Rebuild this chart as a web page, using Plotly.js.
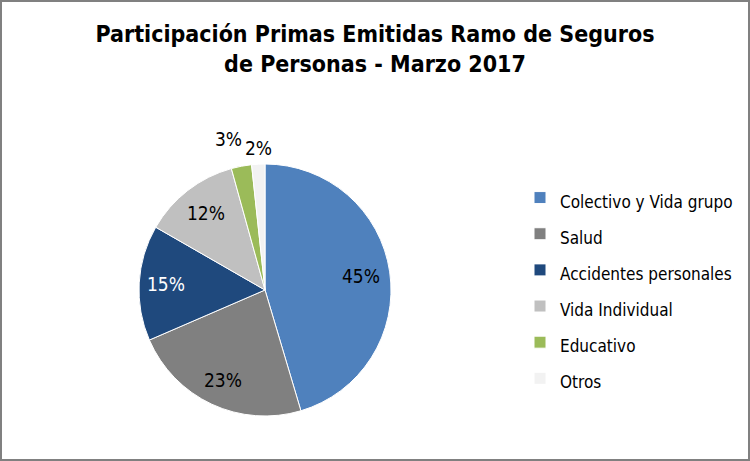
<!DOCTYPE html>
<html>
<head>
<meta charset="utf-8">
<script src="https://cdn.plot.ly/plotly-3.0.1.min.js"></script>
<style>
html,body{margin:0;padding:0;background:#fff}
#wrap{width:750px;height:461px;box-sizing:border-box;border:2px solid #808080;overflow:hidden}
#chart{width:746px;height:457px}
</style>
</head>
<body>
<div id="wrap"><div id="chart"></div></div>
<script>
const labels = ["Colectivo y Vida grupo", "Salud", "Accidentes personales", "Vida Individual", "Educativo", "Otros"];
const values = [45.4, 23.1, 14.8, 12.4, 2.6, 1.7];
const colors = ["#4F81BD", "#808080", "#1F497D", "#C0C0C0", "#9BBB59", "#F2F2F2"];
const labelColors = ["#000", "#000", "#fff", "#000", "#000", "#000"];
const titleText = "Participación Primas Emitidas Ramo de Seguros<br>de Personas - Marzo 2017";

// detect a narrow font
function hasFont(name) {
  const c = document.createElement("canvas").getContext("2d");
  const s = "Colectivo y Vida grupo Wmmll";
  c.font = "40px monospace"; const a = c.measureText(s).width;
  c.font = '40px "' + name + '", monospace'; const b = c.measureText(s).width;
  c.font = "40px serif"; const a2 = c.measureText(s).width;
  c.font = '40px "' + name + '", serif'; const b2 = c.measureText(s).width;
  return a !== b || a2 !== b2;
}
const narrowCandidates = ["Liberation Sans Narrow", "Arial Narrow", "DejaVu Sans Condensed", "Roboto Condensed"];
let narrow = null;
for (const n of narrowCandidates) { if (hasFont(n)) { narrow = n; break; } }
const FONT = narrow ? '"' + narrow + '", sans-serif' : '"Liberation Sans", Arial, sans-serif';
const isDejaVu = narrow === "DejaVu Sans Condensed";
const sz = !narrow ? { title: 24, text: 18, legend: 16 } : isDejaVu ? { title: 23, text: 19, legend: 17 } : { title: 28, text: 20, legend: 19 };

const W = 746, H = 457;
const cx = 263, cy = 288, R = 126;

// percent labels placed at each slice's mid-angle
const radial = [0.77, 0.79, 0.79, 0.77, 1.22, 1.13];
const xshift = [0, 0, 0, 0, -8, 1];
const total = values.reduce((a, b) => a + b, 0);
const annotations = [];
let cum = 0;
values.forEach((v, i) => {
  const pct = Math.round(v / total * 100) + "%";
  const mid = (cum + v / 2) / total * 2 * Math.PI;
  cum += v;
  const r = R * radial[i];
  const px = cx + r * Math.sin(mid), py = cy - r * Math.cos(mid);
  annotations.push({
    xref: "paper", yref: "paper", x: px / W, y: 1 - py / H,
    text: pct, showarrow: false, xanchor: "center", yanchor: "middle",
    xshift: xshift[i],
    font: { family: FONT, size: sz.text, color: labelColors[i] }
  });
});

const legendLabels = labels.map(l => '<span style="font-size:' + sz.legend + 'px">' + l + '</span>');

const trace = {
  type: "pie",
  labels: legendLabels,
  values: values,
  sort: false,
  direction: "clockwise",
  rotation: 0,
  marker: { colors: colors, line: { color: "#ffffff", width: 1 } },
  textinfo: "none",
  hoverinfo: "percent",
  automargin: false,
  domain: { x: [(cx - R) / W, (cx + R) / W], y: [1 - (cy + R) / H, 1 - (cy - R) / H] }
};

const layout = {
  width: W, height: H,
  margin: { l: 0, r: 0, t: 0, b: 0, autoexpand: false },
  paper_bgcolor: "#fff",
  font: { family: FONT, color: "#000" },
  title: {
    text: titleText,
    font: { family: FONT, size: sz.title, color: "#000", weight: "bold" },
    x: 0.5, xanchor: "center",
    y: 1 - 40 / H, yanchor: "middle", yref: "container",
    automargin: false
  },
  showlegend: true,
  legend: {
    x: 518 / W, xanchor: "left",
    y: 1 - 286 / H, yanchor: "middle",
    font: { family: FONT, size: 25.5, color: "#000" },
    bgcolor: "rgba(0,0,0,0)"
  },
  annotations: annotations
};

Plotly.newPlot("chart", [trace], layout, { displayModeBar: false, staticPlot: true });
</script>
</body>
</html>
